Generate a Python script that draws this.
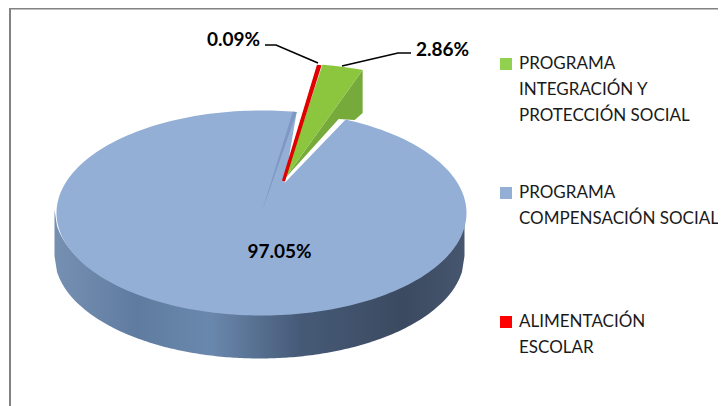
import numpy as np, pandas as pd, altair as alt

names = ["ALIMENTACIÓN ESCOLAR", "PROGRAMA INTEGRACIÓN Y PROTECCIÓN SOCIAL", "PROGRAMA COMPENSACIÓN SOCIAL"]
values = [0.09, 2.86, 97.05]
labels = ["0.09%", "2.86%", "97.05%"]
legend_lines = [["PROGRAMA", "INTEGRACIÓN Y", "PROTECCIÓN SOCIAL"], ["PROGRAMA", "COMPENSACIÓN SOCIAL"], ["ALIMENTACIÓN", "ESCOLAR"]]
legend_colors = ["#92d050", "#94afd6", "#ff0000"]

CX, CY, RX, RY, DEPTH = 259.5, 213, 205, 102.5, 43
START = 8.6      # first slice angle, degrees clockwise from top
OX, OY, OR = 25, -34, 1.13  # explosion of the two small slices

deg = np.array(values) / 100 * 360

def pt(a, cx=CX, cy=CY, r=1.0):
    t = np.radians(a)
    return cx + RX * r * np.sin(t), cy - RY * r * np.cos(t)

def sector(a0, a1, cx, cy, r, n=40, ax=None, ay=None):
    aa = np.linspace(a0, a1, n)
    xs, ys = pt(aa, cx, cy, r)
    ax = cx if ax is None else ax
    ay = cy if ay is None else ay
    return [ax, *xs, ax], [ay, *ys, ay]

def poly(xs, ys):
    return pd.DataFrame({"x": xs, "y": ys, "i": range(len(xs))})

X = alt.X("x:Q", scale=alt.Scale(domain=[8, 718]), axis=None)
Y = alt.Y("y:Q", scale=alt.Scale(domain=[406, 8]), axis=None)

def fill_layer(xs, ys, color, stroke=None, sw=0):
    kw = dict(fill=color, clip=False, strokeWidth=sw, stroke=stroke if stroke else "transparent")
    return alt.Chart(poly(xs, ys)).mark_line(**kw).encode(x=X, y=Y, order="i:Q")

# side wall of the big slice
xa = np.linspace(CX - RX, CX + RX, 161)
low = CY + RY * np.sqrt(np.clip(1 - ((xa - CX) / RX) ** 2, 0, 1))
wall = pd.DataFrame({"x": xa, "y": low - 3, "y2": low + DEPTH})
grad = alt.LinearGradient(gradient="linear", x1=0, y1=0, x2=1, y2=0, stops=[
    alt.GradientStop(offset=0, color="#7690b2"),
    alt.GradientStop(offset=0.2, color="#5f7ca0"),
    alt.GradientStop(offset=0.38, color="#6a88ad"),
    alt.GradientStop(offset=0.6, color="#465a77"),
    alt.GradientStop(offset=0.85, color="#3b4a60"),
    alt.GradientStop(offset=1, color="#46566e"),
])
wall_l = alt.Chart(wall).mark_area(color=grad).encode(x=X, y=Y, y2="y2:Q")

# exploded slices' apex
gcx, gcy = CX + OX, CY + OY

# big slice, top face; its opening narrows to the apex of the exploded slices
notch = deg[0] + deg[1]
blue_a0 = START + 1.3 + notch * 1.35
bx, by = sector(blue_a0, START + 1.3 + 360, CX + 2, CY, 1.0, 240, gcx, gcy + 4)
blue = fill_layer(bx, by, "#94afd6")

inner_x, inner_y = sector(START + 0.2, START + 1.3, CX + 2, CY, 1.0, 4)
inner = fill_layer(inner_x, inner_y, "#7f97c4")

g0, g1 = START + deg[0] + 0.5, START + deg[0] + deg[1] + 0.5
ex, ey = pt(g1, gcx, gcy, OR)
gw_x = [gcx, ex, ex, ex - 8, ex - 24]
gw_y = [gcy, ey, ey + 43, ey + 50, ey + 49]
green_wall = fill_layer(gw_x, gw_y, "#76ab3b")
gx, gy = sector(g0, g1, gcx, gcy, OR)
green = fill_layer(gx, gy, "#8cc63f")
rx_, ry_ = sector(START, START + deg[0], gcx - 1, gcy + 2, OR, 3)
red = fill_layer(rx_, ry_, "#e00000", "#e00000", 3.2)

# frame
frame_v = alt.Chart(pd.DataFrame({"x": [10, 10], "y": [406, 8], "i": [0, 1]})).mark_line(color="#828282", strokeWidth=2).encode(x=X, y=Y, order="i:Q")
frame_h = alt.Chart(pd.DataFrame({"x": [9, 718], "y": [8.7, 8.7], "i": [0, 1]})).mark_line(color="#828282", strokeWidth=1.5).encode(x=X, y=Y, order="i:Q")

# leader lines
def leader(xs, ys):
    return alt.Chart(poly(xs, ys)).mark_line(color="black", strokeWidth=1.6).encode(x=X, y=Y, order="i:Q")
lead = [leader([265, 276, 318], [45, 45, 63]), leader([411, 398, 342], [53, 53, 66])]

FONT = "Lato"
lab = pd.DataFrame({"x": [233.5, 442.5, 279.5], "y": [40, 50, 252], "t": labels})
lab_l = alt.Chart(lab).mark_text(font=FONT, fontWeight="bold", fontSize=19, color="black").encode(x=X, y=Y, text="t:N")

rows = []
sw = []
for lines, c, y0 in zip(legend_lines, legend_colors, [64, 193, 322]):
    sw.append({"x": 506, "y": y0, "c": c})
    for k, s in enumerate(lines):
        rows.append({"x": 519, "y": y0 + k * 26, "t": s})
leg_t = alt.Chart(pd.DataFrame(rows)).mark_text(font=FONT, fontSize=17, align="left", color="#1a1a1a").encode(x=X, y=Y, text="t:N")
leg_s = alt.Chart(pd.DataFrame(sw)).mark_square(size=144, opacity=1).encode(x=X, y=Y, color=alt.Color("c:N", scale=None))

chart = alt.layer(frame_v, frame_h, wall_l, blue, inner, green_wall, green, red, *lead, lab_l, leg_s, leg_t).properties(
    width=710, height=398, padding=0, autosize=alt.AutoSizeParams(type="none")
).configure(background="white").configure_view(stroke=None)
chart.save("out.html", embed_options={"renderer": "svg", "actions": False})
